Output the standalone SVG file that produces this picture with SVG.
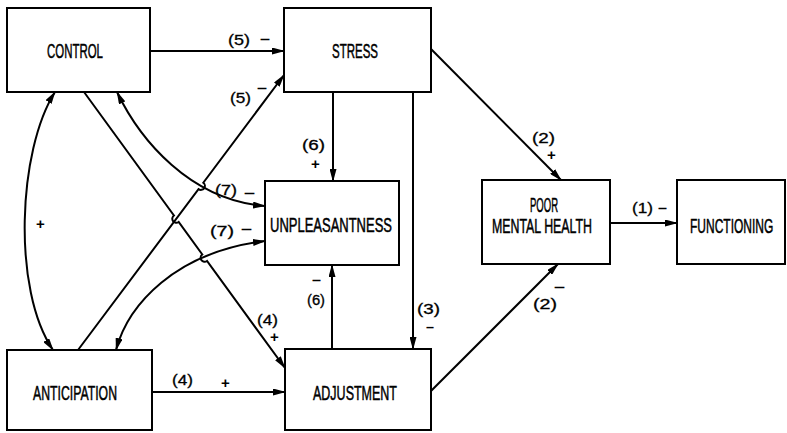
<svg xmlns="http://www.w3.org/2000/svg" width="787" height="433" viewBox="0 0 787 433">
<style>
.box{fill:#fff;stroke:#000;stroke-width:2}
.nt{font-family:"Liberation Sans",Arial,sans-serif;font-size:20px;fill:#000;stroke:#000;stroke-width:0.5}
.lb{font-family:"Liberation Sans",Arial,sans-serif;font-size:14px;fill:#000;stroke:#000;stroke-width:0.3}
.pm{font-family:"Liberation Sans",Arial,sans-serif;font-size:15px;font-weight:bold;fill:#000}
.c{fill:none;stroke:#000;stroke-width:2}
.a{marker-end:url(#ah)}
.d{marker-start:url(#ah);marker-end:url(#ah)}
</style>
<defs>
<marker id="ah" viewBox="0 0 13 7" refX="12" refY="3.5" markerWidth="13" markerHeight="7" markerUnits="userSpaceOnUse" orient="auto-start-reverse">
<path d="M0,0 L13,3.5 L0,7 z" fill="#000"/>
</marker>
</defs>
<rect width="787" height="433" fill="#fff"/>
<g id="connectors">
<path class="c a" d="M150,51 L284,51"/>
<path class="c a" d="M78,350 L198.5,189.1 A4,4 0 0 0 203.3,182.7 L284,75"/>
<path class="c a" d="M333,92 L333,181"/>
<path class="c a" d="M413,92 L413,349"/>
<path class="c a" d="M431,49 L561,180"/>
<path class="c a" d="M431,391 L558,264"/>
<path class="c a" d="M610,223 L677,223"/>
<path class="c a" d="M332,349 L332,265"/>
<path class="c a" d="M152,392 L285,392"/>
<path class="c a" d="M84,92 L173.95,215.5 A4,4 0 0 0 178.66,222 L202.3,254.5 A4,4 0 0 0 207,261 L285,368"/>
<path class="c d" d="M117,92 C140,140 190,200 265,206"/>
<path class="c d" d="M116,350 C128,305 175,252 265,241"/>
<path class="c d" d="M55,92 C18,150 12,290 53,350"/>
<g class="lb">
<text x="228" y="45" textLength="22" lengthAdjust="spacingAndGlyphs">(5)</text>
<text x="230" y="103" textLength="21" lengthAdjust="spacingAndGlyphs">(5)</text>
<text x="302" y="150" textLength="23" lengthAdjust="spacingAndGlyphs">(6)</text>
<text x="215" y="195" textLength="22" lengthAdjust="spacingAndGlyphs">(7)</text>
<text x="210" y="236" textLength="24" lengthAdjust="spacingAndGlyphs">(7)</text>
<text x="307" y="305" textLength="18" lengthAdjust="spacingAndGlyphs">(6)</text>
<text x="257" y="325" textLength="21" lengthAdjust="spacingAndGlyphs">(4)</text>
<text x="172" y="385" textLength="21" lengthAdjust="spacingAndGlyphs">(4)</text>
<text x="532" y="143" textLength="23" lengthAdjust="spacingAndGlyphs">(2)</text>
<text x="533" y="309" textLength="24" lengthAdjust="spacingAndGlyphs">(2)</text>
<text x="417" y="314" textLength="23" lengthAdjust="spacingAndGlyphs">(3)</text>
<text x="632" y="213" textLength="21" lengthAdjust="spacingAndGlyphs">(1)</text>
</g>
<g class="pm">
<text x="260" y="44" textLength="10" lengthAdjust="spacingAndGlyphs">–</text>
<text x="257" y="93" textLength="10" lengthAdjust="spacingAndGlyphs">–</text>
<text x="311" y="169">+</text>
<text x="244" y="198" textLength="11" lengthAdjust="spacingAndGlyphs">–</text>
<text x="241" y="234" textLength="11" lengthAdjust="spacingAndGlyphs">–</text>
<text x="36" y="229">+</text>
<text x="312" y="285" textLength="9" lengthAdjust="spacingAndGlyphs">–</text>
<text x="270" y="342">+</text>
<text x="221" y="388">+</text>
<text x="547" y="160">+</text>
<text x="554" y="292" textLength="11" lengthAdjust="spacingAndGlyphs">–</text>
<text x="426" y="332" textLength="8" lengthAdjust="spacingAndGlyphs">–</text>
<text x="658" y="213" textLength="9" lengthAdjust="spacingAndGlyphs">–</text>
</g>
</g>
<g id="control"><rect class="box" x="7" y="8" width="143" height="84"/><text class="nt" x="47" y="58" textLength="56" lengthAdjust="spacingAndGlyphs">CONTROL</text></g>
<g id="stress"><rect class="box" x="284" y="8" width="147" height="84"/><text class="nt" x="332" y="58" textLength="46" lengthAdjust="spacingAndGlyphs">STRESS</text></g>
<g id="unpleasantness"><rect class="box" x="265" y="181" width="134" height="84"/><text class="nt" x="270" y="232" textLength="122" lengthAdjust="spacingAndGlyphs">UNPLEASANTNESS</text></g>
<g id="poor-mental-health"><rect class="box" x="482" y="180" width="128" height="84"/><text class="nt" x="530" y="212" textLength="28" lengthAdjust="spacingAndGlyphs">POOR</text><text class="nt" x="492" y="233" textLength="100" lengthAdjust="spacingAndGlyphs">MENTAL HEALTH</text></g>
<g id="functioning"><rect class="box" x="677" y="180" width="108" height="84"/><text class="nt" transform="translate(690,233) scale(0.6,1)" x="0" y="0">FUNCTIONING</text></g>
<g id="anticipation"><rect class="box" x="7" y="350" width="145" height="80"/><text class="nt" x="33" y="400" textLength="84" lengthAdjust="spacingAndGlyphs">ANTICIPATION</text></g>
<g id="adjustment"><rect class="box" x="285" y="349" width="146" height="81"/><text class="nt" x="313" y="400" textLength="84" lengthAdjust="spacingAndGlyphs">ADJUSTMENT</text></g>
</svg>
